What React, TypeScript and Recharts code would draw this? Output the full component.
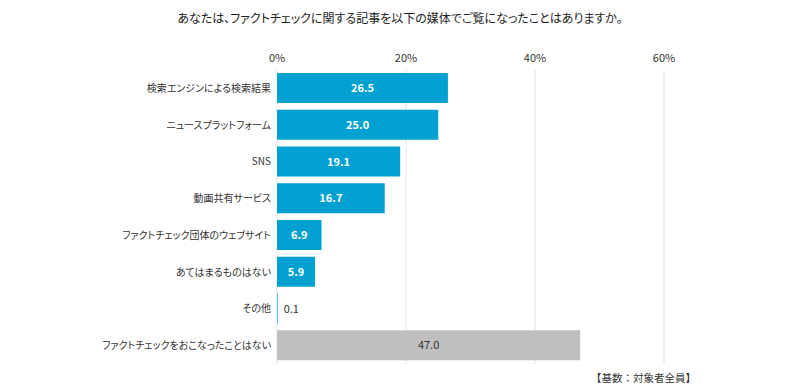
import { BarChart, Bar, XAxis, YAxis, CartesianGrid, Cell, LabelList } from "recharts";

const categories = [
  "検索エンジンによる検索結果",
  "ニュースプラットフォーム",
  "SNS",
  "動画共有サービス",
  "ファクトチェック団体のウェブサイト",
  "あてはまるものはない",
  "その他",
  "ファクトチェックをおこなったことはない",
];
const values = [26.5, 25.0, 19.1, 16.7, 6.9, 5.9, 0.1, 47.0];
const xTicks = [0, 20, 40, 60];

const FONT = '"Noto Sans CJK JP", "Noto Sans", sans-serif';
const BLUE = "#00a0d0";
const GRAY = "#bfbfbf";
const PALT = { fontFeatureSettings: '"palt"' };

const data = categories.map((name, i) => ({ name, value: values[i] }));

// value label: white inside blue bars, dark for the grey one, outside when the bar is too thin
const renderLabel = (props: any) => {
  const { x, y, width, height, value, index } = props;
  const isGray = index === categories.length - 1;
  const outside = width < 20;
  return (
    <text
      x={outside ? x + width + 6 : x + width / 2}
      y={y + height / 2}
      dy={4}
      textAnchor={outside ? "start" : "middle"}
      fill={outside || isGray ? "#333" : "#fff"}
      fontSize={11}
      fontWeight={outside || isGray ? 400 : 700}
      fontFamily={FONT}
    >
      {Number(value).toFixed(1)}
    </text>
  );
};

export default function App() {
  return (
    <div style={{ position: "absolute", left: 0, top: 0, width: 800, height: 389, background: "#fff", fontFamily: FONT }}>
      <div
        style={{ position: "absolute", top: 9, left: 0, width: 800, textAlign: "center", fontSize: 12, color: "#222", ...PALT }}
      >
        あなたは、ファクトチェックに関する記事を以下の媒体でご覧になったことはありますか。
      </div>
      <BarChart
        width={800}
        height={389}
        data={data}
        layout="vertical"
        margin={{ top: 40, right: 136, bottom: 25, left: 7 }}
        barCategoryGap={6}
      >
        <CartesianGrid horizontal={false} stroke="#e3e3e3" />
        <XAxis
          type="number"
          orientation="top"
          domain={[0, 60]}
          ticks={xTicks}
          tickFormatter={(v) => `${v}%`}
          axisLine={false}
          tickLine={false}
          height={30}
          tick={{ fontSize: 11, fill: "#333", fontFamily: FONT }}
        />
        <YAxis
          type="category"
          dataKey="name"
          width={270}
          axisLine={false}
          tickLine={false}
          tickMargin={0}
          interval={0}
          tick={{ fontSize: 10, fill: "#333", fontFamily: FONT, style: PALT }}
        />
        <Bar dataKey="value" isAnimationActive={false} barSize={30}>
          {data.map((d, i) => (
            <Cell key={d.name} fill={i === categories.length - 1 ? GRAY : BLUE} />
          ))}
          <LabelList dataKey="value" content={renderLabel} />
        </Bar>
      </BarChart>
      <div style={{ position: "absolute", top: 370, right: 104, fontSize: 10.5, color: "#333" }}>【基数：対象者全員】</div>
    </div>
  );
}
